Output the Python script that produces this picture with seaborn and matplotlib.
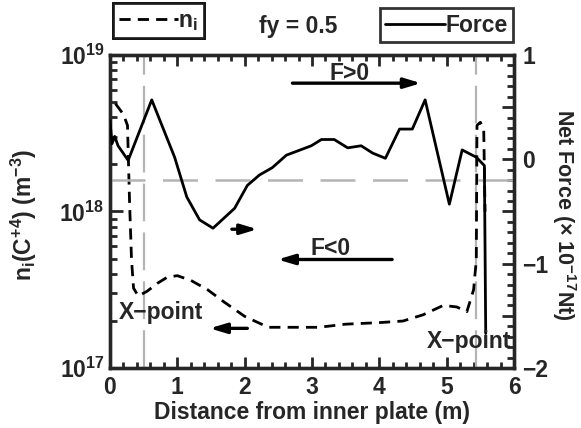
import numpy as np
import pandas as pd
import matplotlib
matplotlib.use("Agg")
import matplotlib.pyplot as plt
import matplotlib.font_manager as fm
from matplotlib.ticker import MultipleLocator, FuncFormatter, LogLocator
import seaborn as sns

# n_i (C+4) density along the divertor leg, log10 values (m^-3)
ni_x = [0.08, 0.20, 0.26, 0.29, 0.32, 0.35, 0.42, 0.55, 0.70, 0.85, 1.00, 1.20, 1.45,
        1.70, 2.00, 2.35, 2.70, 3.10, 3.50, 4.00, 4.35, 4.65, 4.95, 5.15, 5.30, 5.40,
        5.44, 5.45, 5.50, 5.55, 5.57]
ni_log = [18.69, 18.62, 18.55, 18.07, 17.69, 17.51, 17.46, 17.49, 17.54, 17.58, 17.59,
          17.56, 17.50, 17.42, 17.33, 17.26, 17.26, 17.26, 17.28, 17.29, 17.30, 17.34,
          17.40, 17.39, 17.36, 17.50, 17.69, 18.55, 18.57, 18.53, 18.00]

# net force (x 1e-17 Nt)
f_x = [0.00, 0.03, 0.07, 0.12, 0.27, 0.62, 0.96, 1.14, 1.33, 1.53, 1.85, 2.04, 2.22,
       2.41, 2.62, 2.99, 3.14, 3.33, 3.53, 3.73, 3.90, 4.09, 4.30, 4.49, 4.68, 5.04,
       5.23, 5.44, 5.56, 5.58]
f_val = [0.37, 0.15, 0.22, 0.13, -0.01, 0.57, 0.02, -0.36, -0.58, -0.66, -0.47, -0.25,
         -0.15, -0.08, 0.04, 0.13, 0.19, 0.19, 0.11, 0.13, 0.06, 0.01, 0.29, 0.29, 0.57,
         -0.43, 0.09, 0.02, -0.06, -1.67]

xpoints = [0.5, 5.44]
f_ref = -0.2

df_ni = pd.DataFrame({"x": ni_x, "ni": [10 ** v for v in ni_log]})
df_f = pd.DataFrame({"x": f_x, "force": f_val})

sns.set_style("ticks")
names = {f.name for f in fm.fontManager.ttflist}
fam = "Liberation Sans Narrow" if "Liberation Sans Narrow" in names else "Liberation Sans"
plt.rcParams["font.family"] = [fam, "DejaVu Sans"]
plt.rcParams["font.weight"] = "bold"
plt.rcParams["mathtext.fontset"] = "custom"
for k in ["rm", "it", "bf", "sf"]:
    plt.rcParams["mathtext." + k] = fam + ":bold"
fs = 16.5

fig = plt.figure(figsize=(5.81, 4.28), dpi=100)
ax = fig.add_axes([0.1893, 0.1402, 0.6954, 0.7313])
ax2 = ax.twinx()

sns.lineplot(data=df_ni, x="x", y="ni", ax=ax, color="black", lw=2.0,
             linestyle=(0, (4, 2.6)), label="n$_i$", legend=False, zorder=3)
sns.lineplot(data=df_f, x="x", y="force", ax=ax2, color="black", lw=2.0,
             label="Force", legend=False, zorder=3)

for xp in xpoints:
    ax.axvline(xp, color="#b4b4b4", lw=1.6, linestyle=(0, (17, 5)), zorder=1)
ax2.axhline(f_ref, color="#b4b4b4", lw=1.8, linestyle=(0, (14, 7)), zorder=1)

ax.set_yscale("log")
ax.set_xlim(0, 6)
ax.set_ylim(1e17, 1e19)
ax2.set_ylim(-2, 1)

ax.xaxis.set_major_locator(MultipleLocator(1))
ax.xaxis.set_minor_locator(MultipleLocator(0.2))
ax.yaxis.set_major_locator(LogLocator(base=10))
ax.yaxis.set_minor_locator(LogLocator(base=10, subs=np.arange(2, 10)))
ax2.yaxis.set_major_locator(MultipleLocator(0.5))
ax2.yaxis.set_minor_locator(MultipleLocator(0.1))
ax2.yaxis.set_major_formatter(FuncFormatter(
    lambda v, p: ("%d" % v).replace("-", "\u2212") if abs(v - round(v)) < 1e-6 else ""))

for a in (ax, ax2):
    for s in a.spines.values():
        s.set_linewidth(2.4)
ax.tick_params(axis="x", which="both", direction="in", top=True, width=2, labelsize=fs, pad=6)
ax.tick_params(axis="x", which="major", length=8)
ax.tick_params(axis="x", which="minor", length=4.5)
ax.tick_params(axis="y", which="both", direction="in", right=False, width=2, labelsize=fs, pad=4)
ax.tick_params(axis="y", which="major", length=9)
ax.tick_params(axis="y", which="minor", length=5)
ax2.tick_params(axis="y", which="both", direction="in", width=2, labelsize=fs, pad=6)
ax2.tick_params(axis="y", which="major", length=9)
ax2.tick_params(axis="y", which="minor", length=5)

ax.set_xlabel("Distance from inner plate (m)", fontsize=fs, fontweight="bold", labelpad=1)
ax.set_ylabel("n$_i$(C$^{+4}$) (m$^{-3}$)", fontsize=fs, fontweight="bold")
ax.yaxis.set_label_coords(-0.175, 0.49)
ax2.set_ylabel("Net Force ($\\times$ 10$^{\u221217}$Nt)", fontsize=15.5, fontweight="bold",
               rotation=270, va="bottom")
ax2.yaxis.set_label_coords(1.088, 0.49)

# annotations
arr = dict(arrowstyle="-|>,head_length=1.0,head_width=0.3", color="black", lw=2.4,
           shrinkA=0, shrinkB=0)
ax2.annotate("", xy=(4.62, 0.73), xytext=(2.71, 0.73), arrowprops=arr)
ax2.text(3.56, 0.82, "F>0", ha="center", va="center", fontsize=fs, fontweight="bold")
ax2.annotate("", xy=(2.19, -0.67), xytext=(1.81, -0.67), arrowprops=arr)
ax2.annotate("", xy=(2.49, -0.96), xytext=(4.19, -0.96), arrowprops=arr)
ax2.text(3.27, -0.85, "F<0", ha="center", va="center", fontsize=fs, fontweight="bold")
ax2.annotate("", xy=(1.48, -1.62), xytext=(2.04, -1.62), arrowprops=arr)
ax2.text(0.76, -1.47, "X\u2212point", ha="center", va="center", fontsize=fs, fontweight="bold")
ax2.text(5.33, -1.75, "X\u2212point", ha="center", va="center", fontsize=fs, fontweight="bold")

# legend boxes above the frame
h1 = ax.get_lines()[0]
h2 = ax2.get_lines()[0]
leg_kw = dict(frameon=True, fancybox=False, handlelength=2.6,
              handletextpad=0.0, borderpad=0.25, borderaxespad=0,
              bbox_transform=fig.transFigure, prop={"weight": "bold", "size": fs})
leg1 = ax.legend([h1], ["n$_i$"], loc="upper left", bbox_to_anchor=(113 / 581, 1 - 3 / 428), **leg_kw)
leg1.get_frame().set_edgecolor("black")
leg1.get_frame().set_linewidth(2)
ax.add_artist(leg1)
leg2 = ax2.legend([h2], ["Force"], loc="upper right", bbox_to_anchor=(513 / 581, 1 - 8 / 428), **leg_kw)
leg2.get_frame().set_edgecolor("black")
leg2.get_frame().set_linewidth(2)
fig.text(298 / 581, 1 - 27 / 428, "fy = 0.5", ha="center", va="center", fontsize=fs, fontweight="bold")

fig.savefig("out.png", dpi=100)
